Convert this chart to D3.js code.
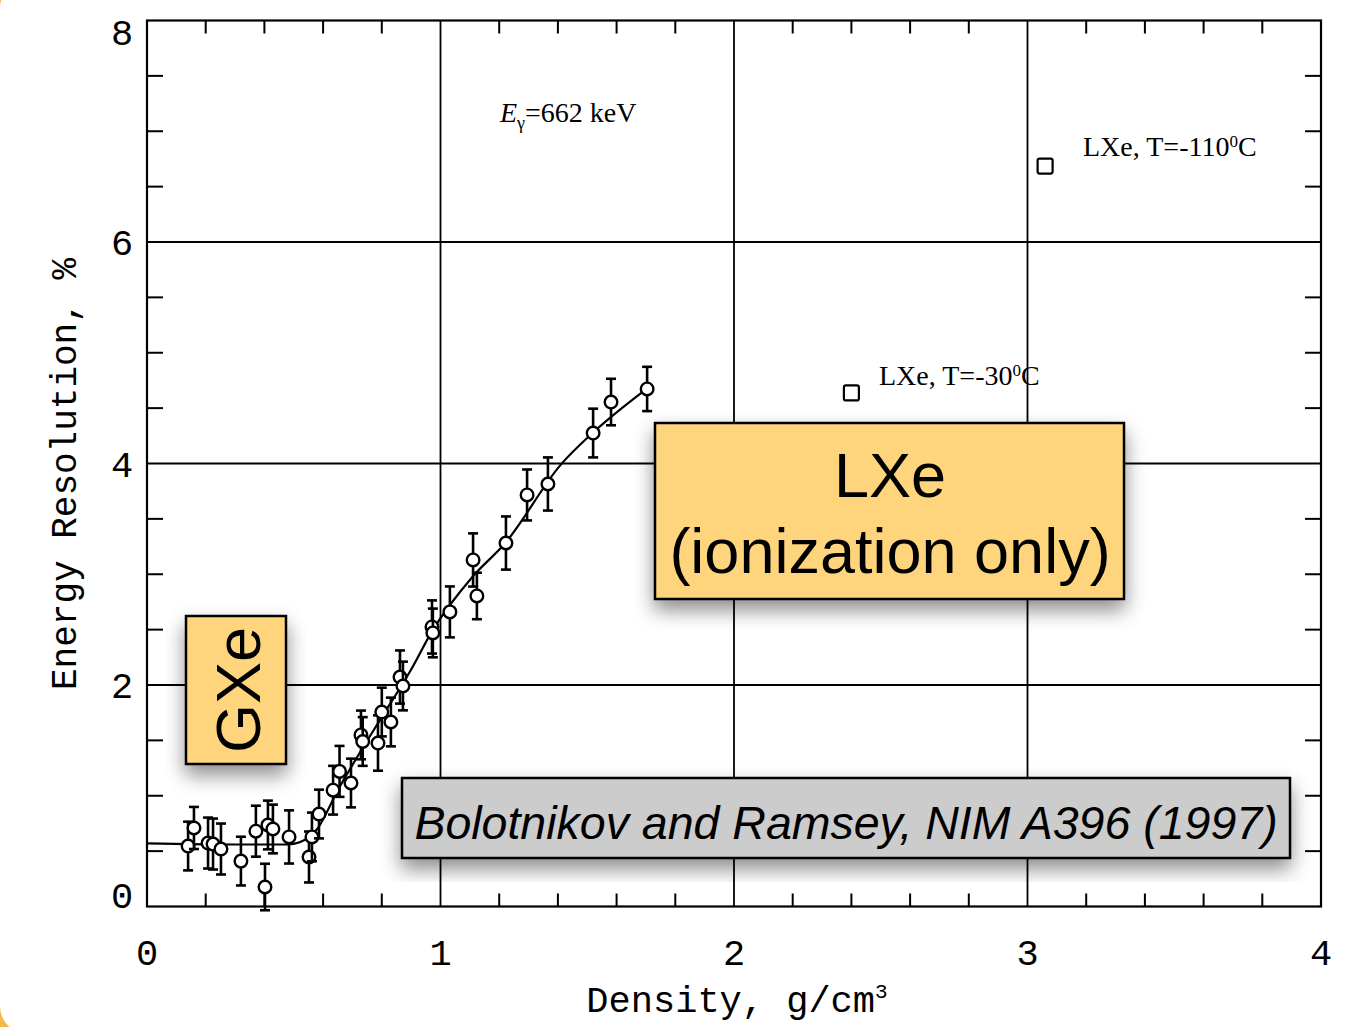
<!DOCTYPE html>
<html>
<head>
<meta charset="utf-8">
<script src="https://cdn.jsdelivr.net/npm/d3@7"></script>
<style>
  body { margin: 0; background: #f5b84a; }
  svg { display: block; }
</style>
</head>
<body>
<svg id="chart" width="1364" height="1027"></svg>
<script>
// ---- data ----
var densityPts = [0.14, 0.16, 0.208, 0.225, 0.252, 0.32, 0.371, 0.402, 0.412, 0.429,
                  0.484, 0.552, 0.562, 0.586, 0.634, 0.656, 0.695, 0.729, 0.735, 0.787,
                  0.80, 0.831, 0.862, 0.872, 0.971, 0.974, 1.032, 1.111, 1.124, 1.223,
                  1.295, 1.366, 1.52, 1.581, 1.704];
var resolutionPts = [0.546, 0.709, 0.573, 0.564, 0.519, 0.41, 0.68, 0.176, 0.736, 0.70,
                     0.628, 0.447, 0.628, 0.835, 1.05, 1.22, 1.115, 1.549, 1.49, 1.476,
                     1.756, 1.666, 2.072, 1.991, 2.524, 2.47, 2.66, 3.129, 2.804, 3.282,
                     3.716, 3.815, 4.275, 4.555, 4.673];
var resolutionErr = [0.22, 0.19, 0.23, 0.23, 0.23, 0.22, 0.23, 0.21, 0.22, 0.22,
                     0.24, 0.23, 0.22, 0.22, 0.22, 0.23, 0.22, 0.22, 0.22, 0.25,
                     0.22, 0.22, 0.24, 0.22, 0.24, 0.22, 0.23, 0.24, 0.21, 0.24,
                     0.23, 0.24, 0.22, 0.21, 0.2];

var fitX = [0, 0.3, 0.48, 0.52, 0.58, 0.65, 0.73, 0.80, 0.90, 0.97, 1.11, 1.22, 1.41, 1.52, 1.70];
var fitY = [0.57, 0.56, 0.56, 0.58, 0.7, 1.05, 1.41, 1.71, 2.14, 2.48, 2.98, 3.28, 3.99, 4.28, 4.67];

var lxeX = [2.40, 3.06];
var lxeY = [4.637, 6.686];
var lxeLabels = ["LXe, T=-30", "LXe, T=-110"];

var xTicks = [0, 1, 2, 3, 4];
var yTicks = [0, 2, 4, 6, 8];

// ---- layout ----
var svg = d3.select("#chart");
var x = d3.scaleLinear().domain([0, 4]).range([147, 1321]);
var y = d3.scaleLinear().domain([0, 8]).range([906.5, 20.5]);

// page background (white card with rounded corners over orange)
svg.append("rect")
  .attr("x", 0).attr("y", -20)
  .attr("width", 1420).attr("height", 1054)
  .attr("rx", 28)
  .attr("fill", "#fff");

var defs = svg.append("defs");
var f = defs.append("filter").attr("id", "shadow")
  .attr("x", "-20%").attr("y", "-20%").attr("width", "140%").attr("height", "150%");
f.append("feDropShadow")
  .attr("dx", 0).attr("dy", 10)
  .attr("stdDeviation", 10)
  .attr("flood-color", "#000")
  .attr("flood-opacity", 0.45);

// grid at the major ticks
var grid = svg.append("g").attr("stroke", "#000").attr("stroke-width", 1.8);
grid.selectAll(".gx").data([1, 2, 3]).enter().append("line")
  .attr("x1", d => x(d)).attr("x2", d => x(d))
  .attr("y1", y(8)).attr("y2", y(0));
grid.selectAll(".gy").data([2, 4, 6]).enter().append("line")
  .attr("x1", x(0)).attr("x2", x(4))
  .attr("y1", d => y(d)).attr("y2", d => y(d));

// minor ticks, inward on all four sides
var xMinor = d3.range(0.2, 4, 0.2).filter(d => Math.abs(d - Math.round(d)) > 0.01);
var yMinor = d3.range(0.5, 8, 0.5).filter(d => Math.abs(d / 2 - Math.round(d / 2)) > 0.01);
var ticks = svg.append("g").attr("stroke", "#000").attr("stroke-width", 2);
ticks.selectAll(".tb").data(xMinor).enter().append("line")
  .attr("x1", d => x(d)).attr("x2", d => x(d))
  .attr("y1", y(0)).attr("y2", y(0) - 13);
ticks.selectAll(".tt").data(xMinor).enter().append("line")
  .attr("x1", d => x(d)).attr("x2", d => x(d))
  .attr("y1", y(8)).attr("y2", y(8) + 13);
ticks.selectAll(".tl").data(yMinor).enter().append("line")
  .attr("x1", x(0)).attr("x2", x(0) + 16)
  .attr("y1", d => y(d)).attr("y2", d => y(d));
ticks.selectAll(".tr").data(yMinor).enter().append("line")
  .attr("x1", x(4)).attr("x2", x(4) - 16)
  .attr("y1", d => y(d)).attr("y2", d => y(d));

// frame
svg.append("rect")
  .attr("x", x(0)).attr("y", y(8))
  .attr("width", x(4) - x(0)).attr("height", y(0) - y(8))
  .attr("fill", "none").attr("stroke", "#000").attr("stroke-width", 2.2);

// tick labels
svg.append("g").selectAll("text").data(xTicks).enter().append("text")
  .attr("x", d => x(d)).attr("y", 965)
  .attr("text-anchor", "middle")
  .style("font-family", "Liberation Mono, monospace")
  .style("font-size", "37px")
  .text(d => d);
svg.append("g").selectAll("text").data(yTicks).enter().append("text")
  .attr("x", 122).attr("y", d => Math.min(895, Math.max(32, y(d))) + 13)
  .attr("text-anchor", "middle")
  .style("font-family", "Liberation Mono, monospace")
  .style("font-size", "37px")
  .text(d => d);

// axis titles
var xt = svg.append("text")
  .attr("x", 737).attr("y", 1012)
  .attr("text-anchor", "middle")
  .style("font-family", "Liberation Mono, monospace")
  .style("font-size", "37px");
xt.append("tspan").text("Density, g/cm");
xt.append("tspan").attr("dy", -14).style("font-size", "21px").text("3");

svg.append("text")
  .attr("transform", "translate(76,474) rotate(-90)")
  .attr("text-anchor", "middle")
  .style("font-family", "Liberation Mono, monospace")
  .style("font-size", "36px")
  .text("Energy Resolution, %");

// fitted curve
var pts = fitX.map((d, i) => [d, fitY[i]]);
svg.append("path")
  .datum(pts)
  .attr("fill", "none").attr("stroke", "#000").attr("stroke-width", 2.2)
  .attr("d", d3.line().x(d => x(d[0])).y(d => y(d[1])).curve(d3.curveMonotoneX));

// measured points with error bars
var data = densityPts.map((d, i) => ({ x: d, y: resolutionPts[i], e: resolutionErr[i] }));
var g = svg.append("g").selectAll("g").data(data).enter().append("g");
g.append("line")
  .attr("x1", d => x(d.x)).attr("x2", d => x(d.x))
  .attr("y1", d => y(d.y + d.e)).attr("y2", d => y(d.y - d.e))
  .attr("stroke", "#000").attr("stroke-width", 2.6);
g.append("line")
  .attr("x1", d => x(d.x) - 5).attr("x2", d => x(d.x) + 5)
  .attr("y1", d => y(d.y + d.e)).attr("y2", d => y(d.y + d.e))
  .attr("stroke", "#000").attr("stroke-width", 2.6);
g.append("line")
  .attr("x1", d => x(d.x) - 5).attr("x2", d => x(d.x) + 5)
  .attr("y1", d => y(d.y - d.e)).attr("y2", d => y(d.y - d.e))
  .attr("stroke", "#000").attr("stroke-width", 2.6);
g.append("circle")
  .attr("cx", d => x(d.x)).attr("cy", d => y(d.y))
  .attr("r", 6.3)
  .attr("fill", "#fff").attr("stroke", "#000").attr("stroke-width", 2.4);

// LXe squares
svg.append("g").selectAll("rect").data(lxeX).enter().append("rect")
  .attr("x", d => x(d) - 7.5).attr("y", (d, i) => y(lxeY[i]) - 7.5)
  .attr("width", 15).attr("height", 15).attr("rx", 2)
  .attr("fill", "#fff").attr("stroke", "#000").attr("stroke-width", 2.2);

// in-plot labels (serif, like the scanned figure)
function labelLXe(tx, ty, txt) {
  var t = svg.append("text")
    .attr("x", tx).attr("y", ty)
    .style("font-family", "Liberation Serif, serif")
    .style("font-size", "28px");
  t.append("tspan").text(txt);
  t.append("tspan").attr("dy", -9).style("font-size", "17px").text("0");
  t.append("tspan").attr("dy", 9).text("C");
}
labelLXe(1083, 156, lxeLabels[1]);
labelLXe(879, 385, lxeLabels[0]);

var et = svg.append("text")
  .attr("x", 500).attr("y", 122)
  .style("font-family", "Liberation Serif, serif")
  .style("font-size", "28px");
et.append("tspan").style("font-style", "italic").text("E");
et.append("tspan").attr("dy", 7).style("font-size", "18px").text("γ");
et.append("tspan").attr("dy", -7).text("=662 keV");

// annotation boxes
function box(x0, y0, w, h, fill) {
  svg.append("rect")
    .attr("x", x0).attr("y", y0).attr("width", w).attr("height", h)
    .attr("fill", fill).attr("stroke", "#000").attr("stroke-width", 2.5)
    .attr("filter", "url(#shadow)");
}
box(186, 616, 100, 148, "#fed57d");
svg.append("text")
  .attr("transform", "translate(260,690) rotate(-90)")
  .attr("text-anchor", "middle")
  .style("font-family", "Liberation Sans, Arial, sans-serif")
  .style("font-size", "63px")
  .text("GXe");

box(655, 423, 469, 176, "#fed57d");
svg.append("text")
  .attr("x", 890).attr("y", 497)
  .attr("text-anchor", "middle")
  .style("font-family", "Liberation Sans, Arial, sans-serif")
  .style("font-size", "63px")
  .text("LXe");
svg.append("text")
  .attr("x", 890).attr("y", 573)
  .attr("text-anchor", "middle")
  .style("font-family", "Liberation Sans, Arial, sans-serif")
  .style("font-size", "63px")
  .text("(ionization only)");

box(402, 778, 888, 80, "#cccccc");
svg.append("text")
  .attr("x", 846).attr("y", 839)
  .attr("text-anchor", "middle")
  .style("font-family", "Liberation Sans, Arial, sans-serif")
  .style("font-style", "italic")
  .style("font-size", "46.5px")
  .text("Bolotnikov and Ramsey, NIM A396 (1997)");
</script>
</body>
</html>
